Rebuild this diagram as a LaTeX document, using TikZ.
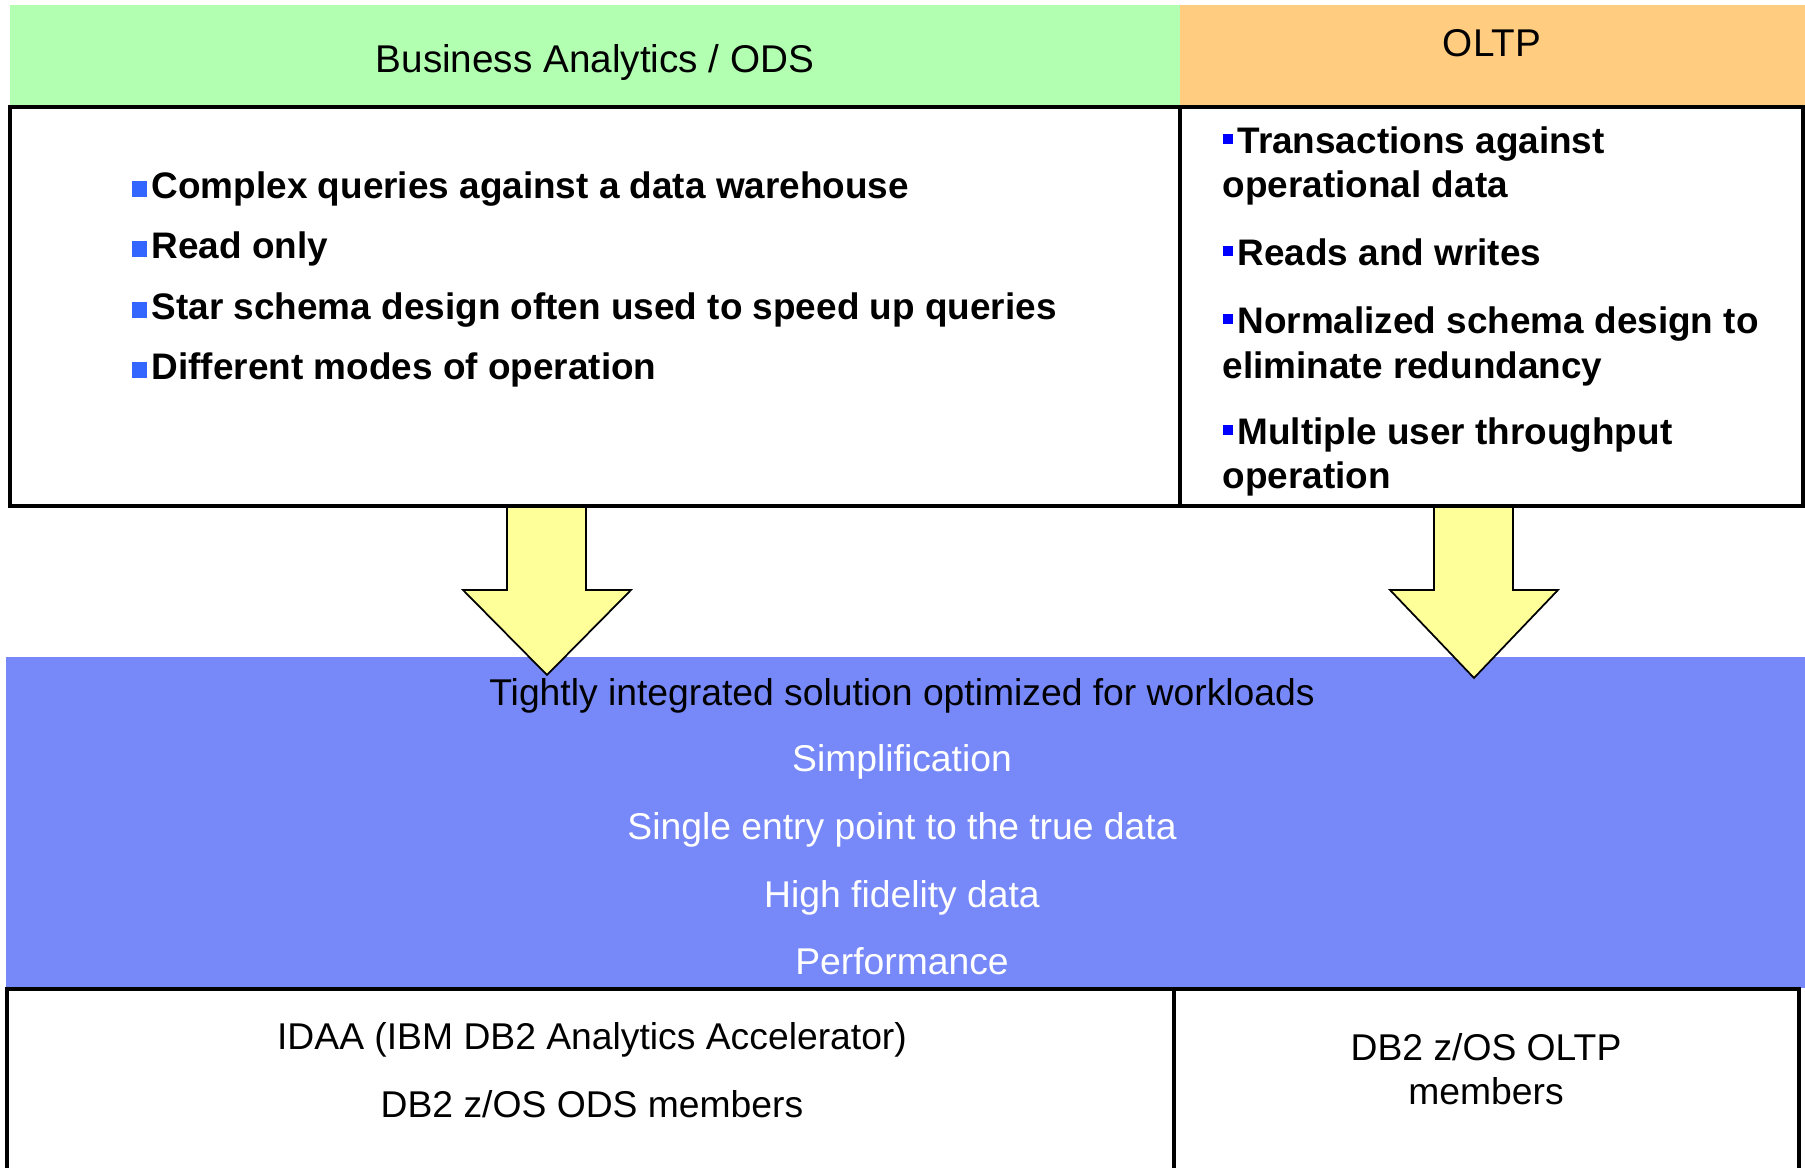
\documentclass[tikz,border=0pt]{standalone}
\usepackage{fontspec}
\setmainfont{Liberation Sans}
\definecolor{hdrgreen}{RGB}{178,255,178}
\definecolor{hdrorange}{RGB}{255,204,128}
\definecolor{bandblue}{RGB}{119,136,248}
\definecolor{arrowyellow}{RGB}{255,255,153}
\definecolor{bulletblue}{RGB}{51,102,255}
\definecolor{bulletdark}{RGB}{0,0,255}
\newcommand{\bigbullet}{\textcolor{bulletblue}{\raisebox{0.6pt}{\rule{4.4pt}{4.4pt}}}\hspace{1.3pt}}
\newcommand{\smallbullet}{\textcolor{bulletdark}{\raisebox{2.8pt}{\rule{2.8pt}{2.8pt}}}\hspace{1.4pt}}
\tikzset{
  heading/.style={font=\fontsize{11}{13}\selectfont, anchor=base, inner sep=0pt},
  point/.style={font=\fontsize{10.5}{12.6}\selectfont\bfseries, anchor=base west, inner sep=0pt},
  plain/.style={font=\fontsize{10.6}{12.7}\selectfont, anchor=base, inner sep=0pt},
  frame/.style={line width=0.9pt},
  bigarrow/.style={draw=black, line width=0.5pt, fill=arrowyellow, line join=miter},
}
\begin{document}
\begin{tikzpicture}[x=0.01cm, y=-0.01cm]
\useasboundingbox (0,0) rectangle (1805,1168);
% headers
\fill[hdrgreen] (10,5) rectangle (1180,107);
\fill[hdrorange] (1180,5) rectangle (1805,107);
% blue band
\fill[bandblue] (6,657) rectangle (1805,988);
% arrows
\draw[bigarrow] (507,506) -- (507,590) -- (463,590) -- (547,675) -- (631,590) -- (586,590) -- (586,506) -- cycle;
\draw[bigarrow] (1434,506) -- (1434,590) -- (1390,590) -- (1474,678) -- (1558,590) -- (1513,590) -- (1513,506) -- cycle;
% frames
\draw[frame] (10,107) rectangle (1803,506);
\draw[frame] (1180,107) -- (1180,506);
\draw[frame] (7,1168) -- (7,989) -- (1799,989) -- (1799,1168);
\draw[frame] (1174,989) -- (1174,1168);

\node[heading] (baHead) at (595,73) {Business Analytics / ODS};
\node[heading] (oltpHead) at (1492,57) {OLTP};

\node[point] (baPt1) at (131,199) {\bigbullet Complex queries against a data warehouse};
\node[point] (baPt2) at (131,259) {\bigbullet Read only};
\node[point] (baPt3) at (131,320) {\bigbullet Star schema design often used to speed up queries};
\node[point] (baPt4) at (131,380) {\bigbullet Different modes of operation};

\node[point] (oltpPt1) at (1222,154) {\smallbullet Transactions against};
\node[point] (oltpPt1b) at (1222,198) {operational data};
\node[point] (oltpPt2) at (1222,266) {\smallbullet Reads and writes};
\node[point] (oltpPt3) at (1222,334) {\smallbullet Normalized schema design to};
\node[point] (oltpPt3b) at (1222,379) {eliminate redundancy};
\node[point] (oltpPt4) at (1222,445) {\smallbullet Multiple user throughput};
\node[point] (oltpPt4b) at (1222,489) {operation};

\node[plain] (bandTitle) at (902,706) {Tightly integrated solution optimized for workloads};
\node[plain, text=white] (bandSimp) at (902,772) {Simplification};
\node[plain, text=white] (bandEntry) at (902,840) {Single entry point to the true data};
\node[plain, text=white] (bandFid) at (902,908) {High fidelity data};
\node[plain, text=white] (bandPerf) at (902,975) {Performance};

\node[plain] (idaa) at (592,1050) {IDAA (IBM DB2 Analytics Accelerator)};
\node[plain] (odsMem) at (592,1118) {DB2 z/OS ODS members};
\node[plain] (oltpMem) at (1486,1061) {DB2 z/OS OLTP};
\node[plain] (oltpMemb) at (1486,1105) {members};
\end{tikzpicture}
\end{document}
